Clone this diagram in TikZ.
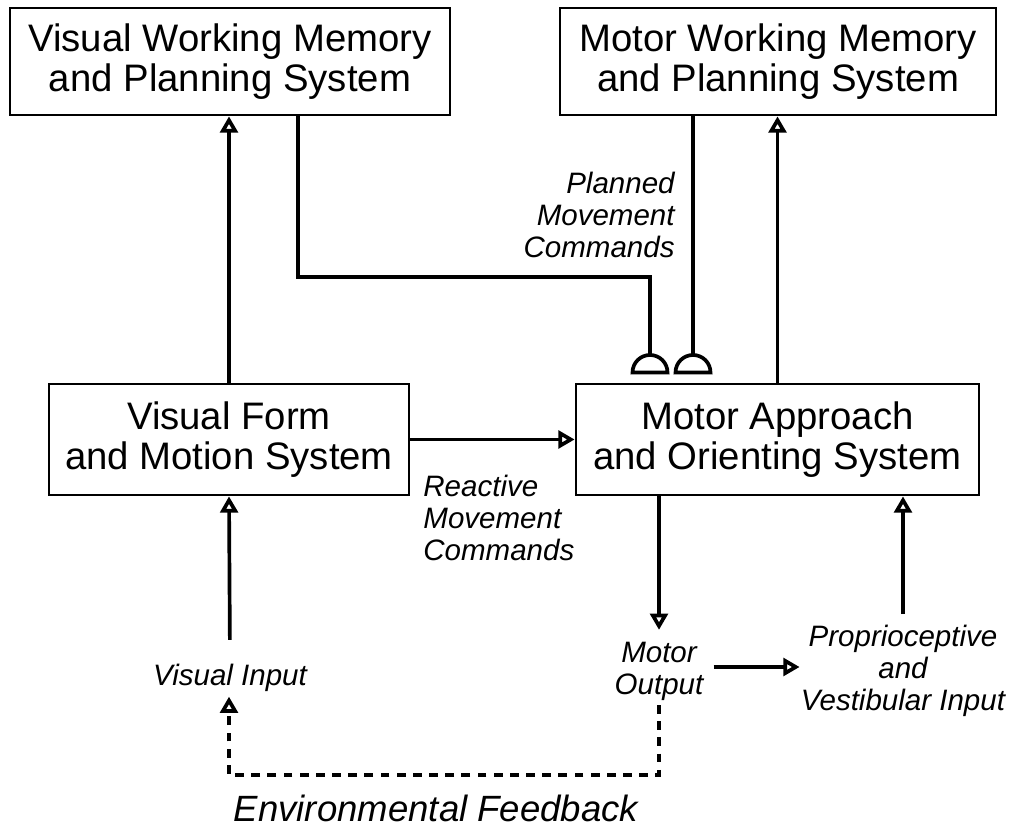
\documentclass[tikz,border=0pt]{standalone}
\usepackage{fontspec}
\setmainfont{Liberation Sans}
\usetikzlibrary{arrows.meta}
\begin{document}
\begin{tikzpicture}[x=0.1mm,y=-0.1mm,line width=0.8pt,
  sys/.style={draw,shape=rectangle,align=center,inner sep=0pt,font=\fontsize{10.9}{11.4}\selectfont},
  lbl/.style={align=center,inner sep=0pt,font=\fontsize{8.4}{9.1}\selectfont\itshape},
  wire/.style={line width=1.05pt},
  arr/.style={wire,-{Triangle[open,length=4.6pt,width=5pt]}},
  fb/.style={dash pattern=on 2.5pt off 2.1pt}]
\useasboundingbox (0,0) rectangle (1010,829);
\node [sys,name=vwm,minimum width=44mm,minimum height=10.7mm] at (230,61.5){Visual Working Memory\\and Planning System};
\node [sys,name=mwm,minimum width=43.6mm,minimum height=10.7mm] at (778,61.5){Motor Working Memory\\and Planning System};
\node [sys,name=vfm,minimum width=36mm,minimum height=11.1mm] at (229,439.5){Visual Form\\and Motion System};
\node [sys,name=mao,minimum width=40.3mm,minimum height=11.1mm] at (777.5,439.5){Motor Approach\\and Orienting System};
\node [lbl,name=vin] at (230,678){Visual Input};
\node [lbl,name=mout] at (659,671){Motor\\Output};
\node [lbl,name=prop] at (903,671){Proprioceptive\\and\\Vestibular Input};
\node [lbl,name=plan,anchor=north east,align=right] at (676,171){Planned\\Movement\\Commands};
\node [lbl,name=react,anchor=north west,align=left] at (422,474){Reactive\\Movement\\Commands};
\node [lbl,name=env,font=\fontsize{10.4}{11}\selectfont\itshape] at (436,808){Environmental Feedback};
\coordinate (bend) at (298,277);
\coordinate (tv) at (650,355);
\coordinate (tm) at (693,355);
\coordinate (fbl) at (229,775);
% feedforward to the motor system
\draw[arr] (vfm.north) -- (vfm.north |- vwm.south);
\draw[arr] (mao.north) -- (mao.north |- mwm.south);
\draw[arr] (vfm.east |- mao.west) -- (mao.west);
\draw[arr] (mao.south -| mout) -- ([yshift=3pt]mout.north);
\draw[arr,shorten <=2.5pt] (mout.east |- 0,667) -- (prop.west |- 0,667);
\draw[arr,shorten <=2.8pt] (prop.north) -- (prop.north |- mao.south);
\draw[arr,shorten <=6.5pt] (vin.north) -- (vfm.south);
% planned commands
\draw[wire] (vwm.south -| bend) -- (bend) -| (tv);
\draw[wire] (mwm.south -| tm) -- (tm);
\draw[wire] ([yshift=-1.75mm]tv) ++(-1.75mm,0) arc[start angle=180,end angle=0,radius=1.75mm] -- cycle;
\draw[wire] ([yshift=-1.75mm]tm) ++(-1.75mm,0) arc[start angle=180,end angle=0,radius=1.75mm] -- cycle;
% environmental feedback
\draw[arr,fb] ([yshift=-1pt]mout.south) |- (fbl) -- ([yshift=-1pt]vin.south -| fbl);
\end{tikzpicture}
\end{document}
